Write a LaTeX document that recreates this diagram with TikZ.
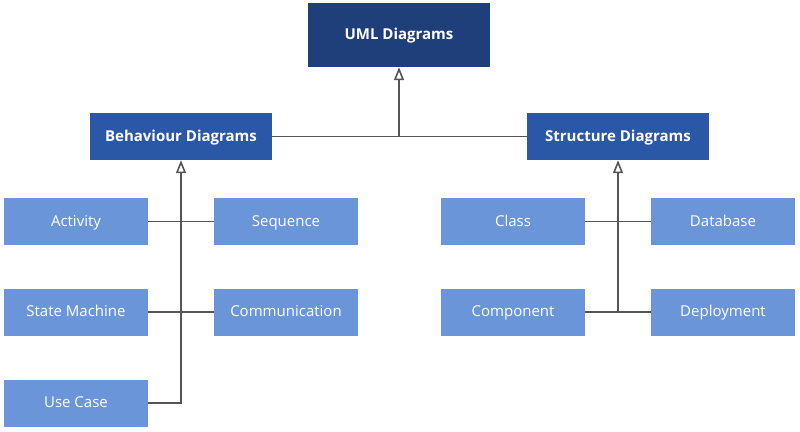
\documentclass[tikz,border=0pt]{standalone}
\usepackage{fontspec}
\setmainfont{Open Sans}
\usetikzlibrary{arrows.meta}
\definecolor{topc}{HTML}{1F3F7A}
\definecolor{midc}{HTML}{2A57A6}
\definecolor{leafc}{HTML}{6A95D9}
\definecolor{linec}{HTML}{555555}
\begin{document}
\begin{tikzpicture}[x=1pt,y=-1pt,
  box/.style={draw=none,text=white,inner sep=0pt,text height=11pt,text depth=1.5pt,font=\fontsize{15}{18}\selectfont},
  topbox/.style={box,fill=topc,minimum width=182pt,minimum height=64pt,font=\fontsize{15}{18}\selectfont\bfseries},
  midbox/.style={box,fill=midc,minimum width=182pt,minimum height=47pt,font=\fontsize{15}{18}\selectfont\bfseries},
  leaf/.style={box,fill=leafc,minimum width=144pt,minimum height=47pt},
  conn/.style={draw=linec,line width=1.8pt},
  gen/.style={conn,-{Triangle[open,length=13pt,width=10pt,line width=1.6pt]}}]
\useasboundingbox (0,0) rectangle (800,431);
\node[topbox] (uml) at (399,35) {UML Diagrams};
\node[midbox] (beh) at (181,136.5) {Behaviour Diagrams};
\node[midbox] (str) at (618,136.5) {Structure Diagrams};
\node[leaf] (act) at (76,221.5) {Activity};
\node[leaf] (seq) at (286,221.5) {Sequence};
\node[leaf] (sm) at (76,312) {State Machine};
\node[leaf] (com) at (286,312) {Communication};
\node[leaf] (uc) at (76,403) {Use Case};
\node[leaf] (cls) at (513,221.5) {Class};
\node[leaf] (db) at (723,221.5) {Database};
\node[leaf] (cmp) at (513,312) {Component};
\node[leaf] (dep) at (723,312) {Deployment};
\draw[conn] (beh.east) -- (str.west);
\draw[gen] (beh.east -| uml.south) -- (uml.south);
\draw[conn] (act.east) -- (seq.west);
\draw[conn] (sm.east) -- (com.west);
\draw[gen] (uc.east) -| (beh.south);
\draw[conn] (cls.east) -- (db.west);
\draw[conn] (cmp.east) -- (dep.west);
\draw[gen] (cmp.east -| str.south) -- (str.south);
\end{tikzpicture}
\end{document}
